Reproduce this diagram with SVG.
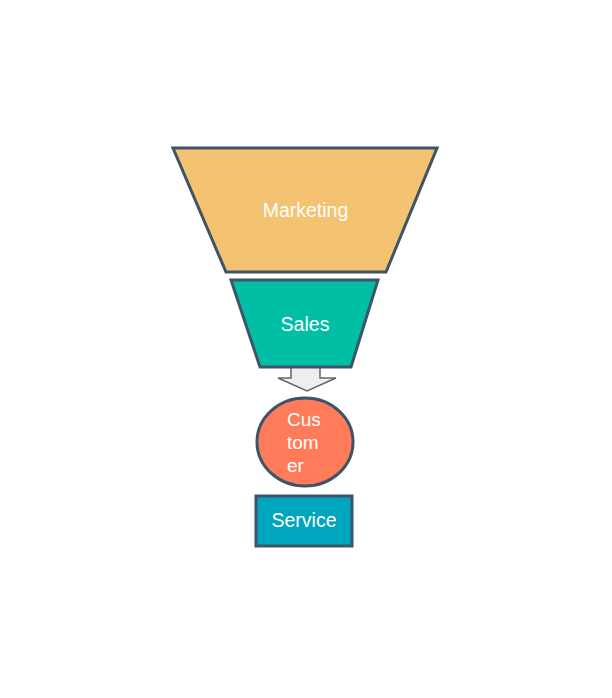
<svg xmlns="http://www.w3.org/2000/svg" width="612" height="698" viewBox="0 0 612 698">
<style>
.shape{stroke:#3E5468;stroke-width:3;stroke-linejoin:miter}
.lbl{font-family:"Liberation Sans",Arial,sans-serif;font-size:19.5px;fill:#FFFFFF}
</style>
<rect width="612" height="698" fill="#FFFFFF"/>
<g id="connectors">
<path d="M291,362 L320,362 L320,378 L336,378 L307,391 L278,378 L291,378 Z" fill="#EEEEEE" stroke="#666666" stroke-width="1.5" stroke-linejoin="miter"/>
</g>
<g id="marketing">
<polygon class="shape" points="173,148 437,148 386,272 226,272" fill="#F4C372"/>
<text class="lbl" x="305.5" y="217" text-anchor="middle">Marketing</text>
</g>
<g id="sales">
<polygon class="shape" points="231,280 378,280 351,367 260,367" fill="#00BFA5"/>
<text class="lbl" x="305" y="331" text-anchor="middle">Sales</text>
</g>
<g id="customer">
<ellipse class="shape" cx="305" cy="442" rx="48" ry="44" fill="#FF7B5A"/>
<text class="lbl" x="287" y="426" style="font-size:19px">Cus</text>
<text class="lbl" x="287" y="449" style="font-size:19px">tom</text>
<text class="lbl" x="287" y="472" style="font-size:19px">er</text>
</g>
<g id="service">
<rect class="shape" x="256" y="496" width="96" height="50" fill="#00A5BE"/>
<text class="lbl" x="304" y="527" text-anchor="middle">Service</text>
</g>
</svg>
